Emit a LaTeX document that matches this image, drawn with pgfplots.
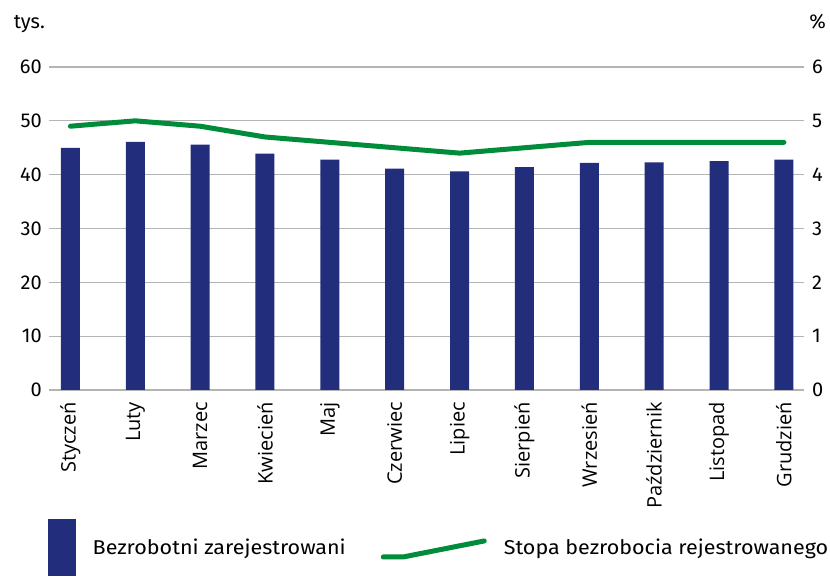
\documentclass[border=0pt]{standalone}
\usepackage{pgfplots}
\pgfplotsset{compat=1.18}
\usepackage{fontspec}
\setmainfont{Fira Sans}
\newfontfamily\legfam[FakeStretch=1.075]{Fira Sans}
\newfontfamily\monfam{Open Sans}
\definecolor{navy}{HTML}{222E7C}
\definecolor{grn}{HTML}{008C3A}
\definecolor{gridc}{HTML}{B4B4B4}
\newcommand{\lblfont}{\fontsize{20bp}{24bp}\selectfont}
\newcommand{\legfont}{\legfam\fontsize{20bp}{24bp}\selectfont}
\newcommand{\monfont}{\monfam\fontsize{20bp}{24bp}\selectfont}
\begin{document}
\begin{tikzpicture}
\useasboundingbox (0,0) rectangle (830bp,577bp);
\begin{axis}[
  at={(49bp,187bp)}, anchor=south west,
  width=755bp, height=323bp, scale only axis,
  xmin=-0.33, xmax=11.31, ymin=0, ymax=60,
  ytick={0,10,...,60},
  xtick={0,...,11},
  xticklabels={Styczeń,Luty,Marzec,Kwiecień,Maj,Czerwiec,Lipiec,Sierpień,Wrzesień,Październik,Listopad,Grudzień},
  x tick label style={rotate=90, anchor=east, font=\monfont, inner sep=0pt},
  xticklabel shift=12bp,
  y tick label style={font=\lblfont, inner sep=0pt},
  yticklabel shift=7bp,
  /pgf/number format/assume math mode=true,
  ymajorgrids, grid style={gridc, line width=1.3bp},
  axis line style={draw=none},
  major tick length=0pt,
  legend columns=2,
  legend style={draw=none, fill=none, at={(-0.002,-0.489)}, anchor=west, font=\legfont, inner sep=0pt,
    nodes={inner sep=0pt},
    /tikz/every odd column/.append style={column sep=17bp},
    /tikz/every even column/.append style={column sep=35bp}},
  legend cell align=left,
]
\addplot[ybar, bar width=19bp, fill=navy, draw=none,
  legend image code/.code={\fill[navy] (0bp,-28.5bp) rectangle (28bp,28.5bp);}]
  coordinates {(0,45.0) (1,46.1) (2,45.6) (3,43.9) (4,42.8) (5,41.1) (6,40.6) (7,41.4) (8,42.2) (9,42.3) (10,42.5) (11,42.8)};
\addlegendentry{Bezrobotni zarejestrowani}
\addlegendimage{legend image code/.code={\draw[grn, line width=5bp, line cap=round] (0bp,-9bp) -- (20bp,-9bp) -- (101bp,7bp);}}
\addlegendentry{Stopa bezrobocia rejestrowanego}
\end{axis}
\begin{axis}[
  at={(49bp,187bp)}, anchor=south west,
  width=755bp, height=323bp, scale only axis,
  xmin=-0.33, xmax=11.31, ymin=0, ymax=6,
  ytick={0,1,...,6},
  axis x line=none,
  axis y line*=right,
  axis line style={draw=none},
  major tick length=0pt,
  y tick label style={font=\lblfont, inner sep=0pt, anchor=west},
  yticklabel shift=8bp,
  /pgf/number format/assume math mode=true,
]
\addplot[grn, line width=5bp, line join=round, line cap=round, no marks]
  coordinates {(0,4.9) (1,5.0) (2,4.9) (3,4.7) (4,4.6) (5,4.5) (6,4.4) (7,4.5) (8,4.6) (9,4.6) (10,4.6) (11,4.6)};
\end{axis}
\node[anchor=base east, inner sep=0pt, font=\lblfont] at (45bp,548bp) {tys.};
\node[anchor=base east, inner sep=0pt, font=\lblfont] at (826bp,548bp) {\%};
\end{tikzpicture}
\end{document}
